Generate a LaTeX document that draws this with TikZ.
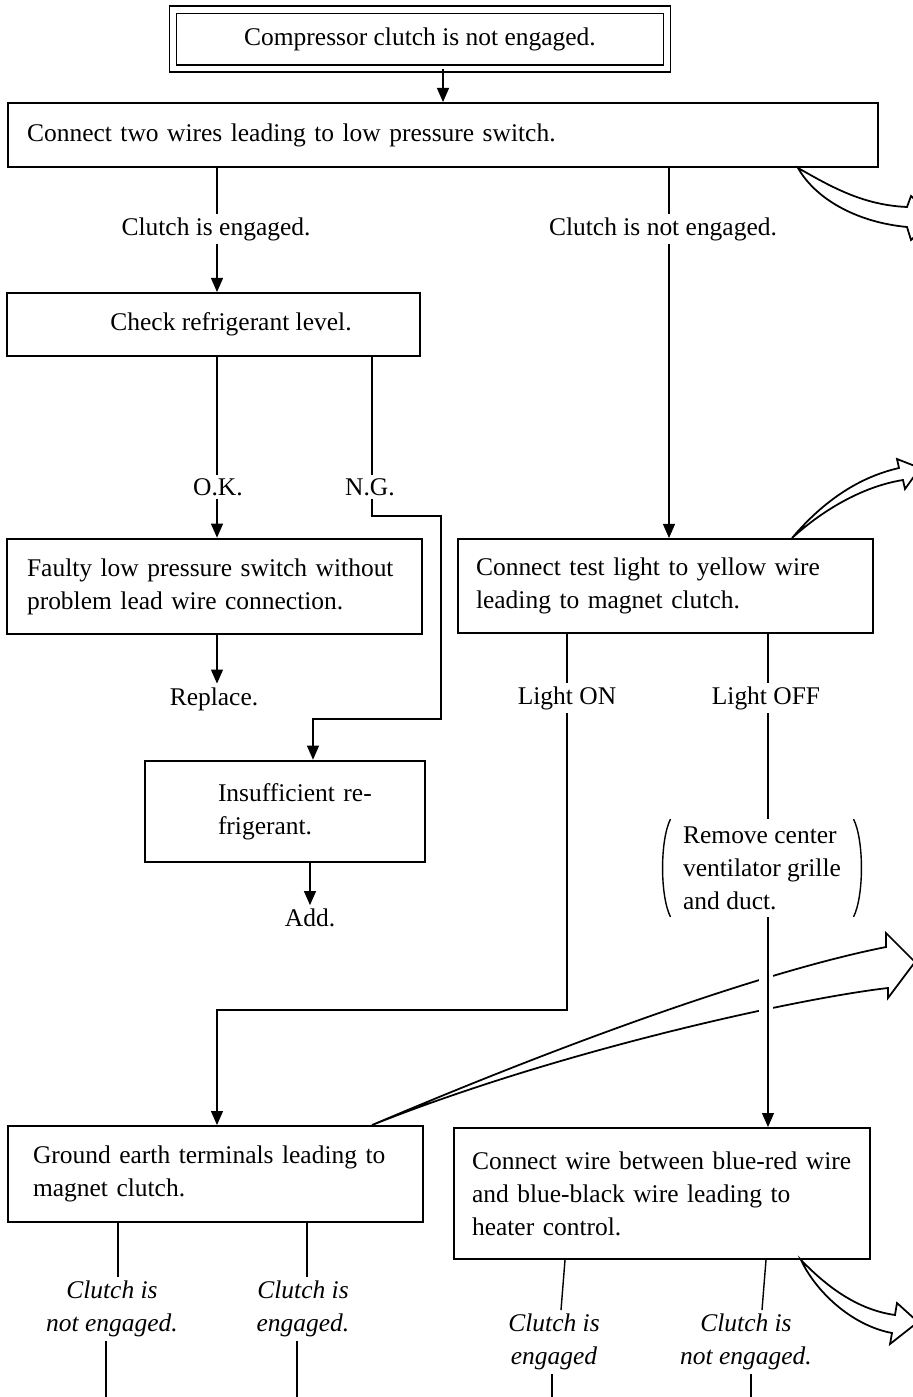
\documentclass[tikz,border=0pt]{standalone}
\usepackage{fontspec}
\setmainfont{Liberation Serif}
\usetikzlibrary{arrows.meta}
\newcommand\myfs{\fontsize{14.5}{18.8}\selectfont}
\begin{document}
\begin{tikzpicture}[x=0.02cm,y=-0.02cm,
  box/.style={draw,line width=1.1pt,rectangle,inner ysep=0pt,font=\myfs},
  boldbox/.style={box,line width=1.5pt},
  lbl/.style={inner sep=2pt,font=\myfs},
  ilbl/.style={inner sep=2pt,font=\myfs\itshape,align=center},
  ln/.style={line width=0.8pt},
  arr/.style={line width=0.8pt,-{Triangle[length=8pt,width=6.8pt]}},
  harrow/.style={draw,line width=1pt,fill=white,line join=miter}
]
\fill[white] (0,0) rectangle (913,1397);
\useasboundingbox (0,0) rectangle (913,1397);
\clip (0,0) rectangle (913,1397);

% column coordinates
\coordinate (cA) at (443,0);
\coordinate (cB) at (217,0);
\coordinate (cC) at (669,0);
\coordinate (cD) at (372,0);
\coordinate (cF) at (313,0);
\coordinate (cG) at (567,0);
\coordinate (cH) at (768,0);
\coordinate (cI) at (310,0);
\coordinate (c118) at (118,0);
\coordinate (c307) at (307,0);
\coordinate (c565) at (565,0);
\coordinate (c561) at (561,0);
\coordinate (c766) at (766,0);
\coordinate (c762) at (762,0);
\coordinate (e1) at (106,1400);
\coordinate (e2) at (297,1400);
\coordinate (e3) at (552,1400);
\coordinate (e4) at (751,1400);
\coordinate (hA) at (798,0);
\coordinate (hB) at (792,0);
\coordinate (hC) at (372,0);
\coordinate (hD) at (801,0);

% boxes
\node[box,minimum width=9.89cm,minimum height=1.18cm,double,double distance=0.12cm,line width=0.7pt] (b1) at (420,39) {Compressor clutch is not engaged.};
\node[box,minimum height=1.28cm,inner xsep=0.38cm,text width=16.64cm,align=left] (b2) at (443,135) {Connect two wires leading to low pressure switch.};
\node[box,minimum width=8.26cm,minimum height=1.26cm] (b3) at (213.5,324.5) {\hspace*{0.7cm}Check refrigerant level.};
\node[boldbox,minimum height=1.9cm,inner xsep=0.4cm,text width=7.5cm,align=left] (b4) at (214.5,586.5) {Faulty low pressure switch without\\problem lead wire connection.};
\node[boldbox,minimum height=2.02cm,inner xsep=0.2cm,text width=5.2cm,align=left] (b5) at (285,811.5) {\hspace*{1.26cm}Insufficient re-\\\hspace*{1.26cm}frigerant.};
\node[box,minimum height=1.88cm,inner xsep=0.36cm,text width=7.58cm,align=left] (b6) at (665.5,586) {Connect test light to yellow wire\\leading to magnet clutch.};
\node[box,minimum height=1.92cm,inner xsep=0.5cm,text width=7.3cm,align=left] (b7) at (215.5,1174) {Ground earth terminals leading to\\magnet clutch.};
\node[box,minimum height=2.62cm,inner xsep=0.36cm,text width=7.6cm,align=left] (b8) at (662,1193.5) {Connect wire between blue-red wire\\and blue-black wire leading to\\heater control.};

% labels
\node[lbl] (l1) at (216,229) {Clutch is engaged.};
\node[lbl] (l2) at (663,229) {Clutch is not engaged.};
\node[lbl] (ok) at (218,487) {O.K.};
\node[lbl] (ng) at (370,487) {N.G.};
\node[lbl] (rep) at (214,699) {Replace.};
\node[lbl] (add) at (310,918) {Add.};
\node[lbl] (lon) at (567,698) {Light ON};
\node[lbl] (loff) at (766,698) {Light OFF};
\node[lbl,align=left,inner sep=4pt] (rem) at (762,868) {Remove center\\ventilator grille\\and duct.};
\draw[line width=0.8pt] ([xshift=-3pt]rem.north west) .. controls ([xshift=-9pt,yshift=-12pt]rem.north west) and ([xshift=-9pt,yshift=12pt]rem.south west) .. ([xshift=-3pt]rem.south west);
\draw[line width=0.8pt] ([xshift=3pt]rem.north east) .. controls ([xshift=9pt,yshift=-12pt]rem.north east) and ([xshift=9pt,yshift=12pt]rem.south east) .. ([xshift=3pt]rem.south east);
\node[ilbl] (i1) at (112,1309) {Clutch is\\not engaged.};
\node[ilbl] (i2) at (303,1309) {Clutch is\\engaged.};
\node[ilbl] (i3) at (554,1342) {Clutch is\\engaged};
\node[ilbl] (i4) at (746,1342) {Clutch is\\not engaged.};

% hollow continuation arrows
\draw[harrow] (b2.south -| hA) .. controls (830,186) and (862,205) .. (907,207) -- (911,196) -- (935,218) -- (911,240) -- (907,227) .. controls (855,222) and (815,198) .. (b2.south -| hA) -- cycle;
\draw[harrow] (b6.north -| hB) .. controls (820,505) and (855,478) .. (899,468) -- (897,459) -- (920,468) -- (905,489) -- (903,480) .. controls (865,486) and (825,508) .. (b6.north -| hB) -- cycle;
\draw[harrow] (b7.north -| hC) .. controls (560,1045) and (760,972) .. (886,947) -- (886,933) -- (915,962) -- (888,998) -- (888,988) .. controls (800,998) and (560,1050) .. (b7.north -| hC) -- cycle;
\draw[harrow] (b8.south -| hD) .. controls (830,1290) and (860,1310) .. (895,1315) -- (897,1303) -- (918,1322) -- (890,1344) -- (892,1333) .. controls (850,1325) and (815,1290) .. (b8.south -| hD) -- cycle;
\fill[white] (759,925) rectangle (773,1020);

% connectors
\draw[arr] (b1.south -| cA) -- (b2.north -| cA);
\draw[ln] (b2.south -| cB) -- (l1.north -| cB);
\draw[arr] (l1.south -| cB) -- (b3.north -| cB);
\draw[ln] (b2.south -| cC) -- (l2.north -| cC);
\draw[arr] (l2.south -| cC) -- (b6.north -| cC);
\draw[ln] (b3.south -| cB) -- (ok.north -| cB);
\draw[arr] (ok.south -| cB) -- (b4.north -| cB);
\draw[ln] (b3.south -| cD) -- (ng.north -| cD);
\draw[arr] (ng.south -| cD) -- (372,516) -- (441,516) -- (441,719) -- (313,719) -- (b5.north -| cF);
\draw[arr] (b4.south -| cB) -- (rep.north -| cB);
\draw[arr] (b5.south -| cI) -- (add.north -| cI);
\draw[ln] (b6.south -| cG) -- (lon.north -| cG);
\draw[arr] (lon.south -| cG) -- (567,1010) -- (217,1010) -- (b7.north -| cB);
\draw[ln] (b6.south -| cH) -- (loff.north -| cH);
\draw[ln] (loff.south -| cH) -- (rem.north -| cH);
\draw[arr] (rem.south -| cH) -- (b8.north -| cH);
\draw[ln] (b7.south -| c118) -- (i1.north -| c118);
\draw[ln] (b7.south -| c307) -- (i2.north -| c307);
\draw[ln] (i1.south -| e1) -- (e1);
\draw[ln] (i2.south -| e2) -- (e2);
\draw[ln] (b8.south -| c565) -- (i3.north -| c561);
\draw[ln] (b8.south -| c766) -- (i4.north -| c762);
\draw[ln] (i3.south -| e3) -- (e3);
\draw[ln] (i4.south -| e4) -- (e4);
\end{tikzpicture}
\end{document}
